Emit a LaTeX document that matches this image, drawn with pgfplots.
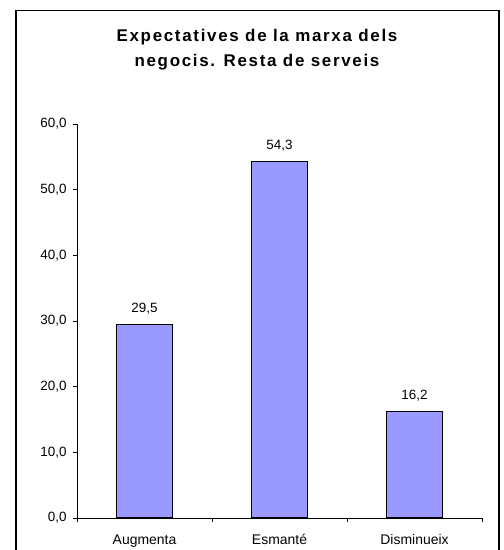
\documentclass[border=0pt]{standalone}
\usepackage{fontspec}
\setmainfont{Liberation Sans}
\newfontfamily\titlefont[LetterSpace=10]{Liberation Sans Bold}
\usepackage{pgfplots}
\pgfplotsset{compat=1.18}
\definecolor{barfill}{HTML}{9999FF}
\begin{document}
\begin{tikzpicture}[x=1bp,y=1bp]
\useasboundingbox (0,0) rectangle (504,550);
\draw[line width=1.2bp] (16,0) -- (16,539.5) -- (499,539.5) -- (499,0);
\node[align=center,font={\titlefont\fontsize{17}{25}\selectfont}] at (257,500) {Expectatives de la marxa dels\\negocis. Resta de serveis};
\begin{axis}[
  at={(77bp,32bp)}, anchor=south west,
  scale only axis, width=405bp, height=394bp,
  xmin=0.5, xmax=3.5, ymin=0, ymax=60,
  axis lines*=left,
  axis line style={line width=0.8bp},
  ytick={0,10,...,60},
  xtick={0.5,1.5,2.5,3.5}, xticklabels={},
  extra x ticks={1,2,3},
  extra x tick labels={Augmenta,Esmanté,Disminueix},
  extra x tick style={major tick length=0pt, xticklabel style={yshift=-13bp, font=\fontsize{14}{16}\selectfont}},
  tick align=outside, major tick length=4bp,
  tick style={black, line width=0.8bp},
  /pgf/number format/assume math mode=true,
  yticklabel={\pgfmathprintnumber[fixed,fixed zerofill,precision=1,use comma]{\tick}},
  yticklabel style={xshift=-3bp},
  tick label style={font=\fontsize{13.5}{15}\selectfont},
  ybar, bar width=56bp,
  nodes near coords={\pgfmathprintnumber[fixed,fixed zerofill,precision=1,use comma]{\pgfplotspointmeta}},
  nodes near coords style={font=\fontsize{13.5}{15}\selectfont, /pgf/number format/assume math mode=true, yshift=6bp},
  clip=false,
]
\addplot[fill=barfill, draw=black, line width=1.5bp] coordinates {(1,29.5) (2,54.3) (3,16.2)};
\end{axis}
\end{tikzpicture}
\end{document}
